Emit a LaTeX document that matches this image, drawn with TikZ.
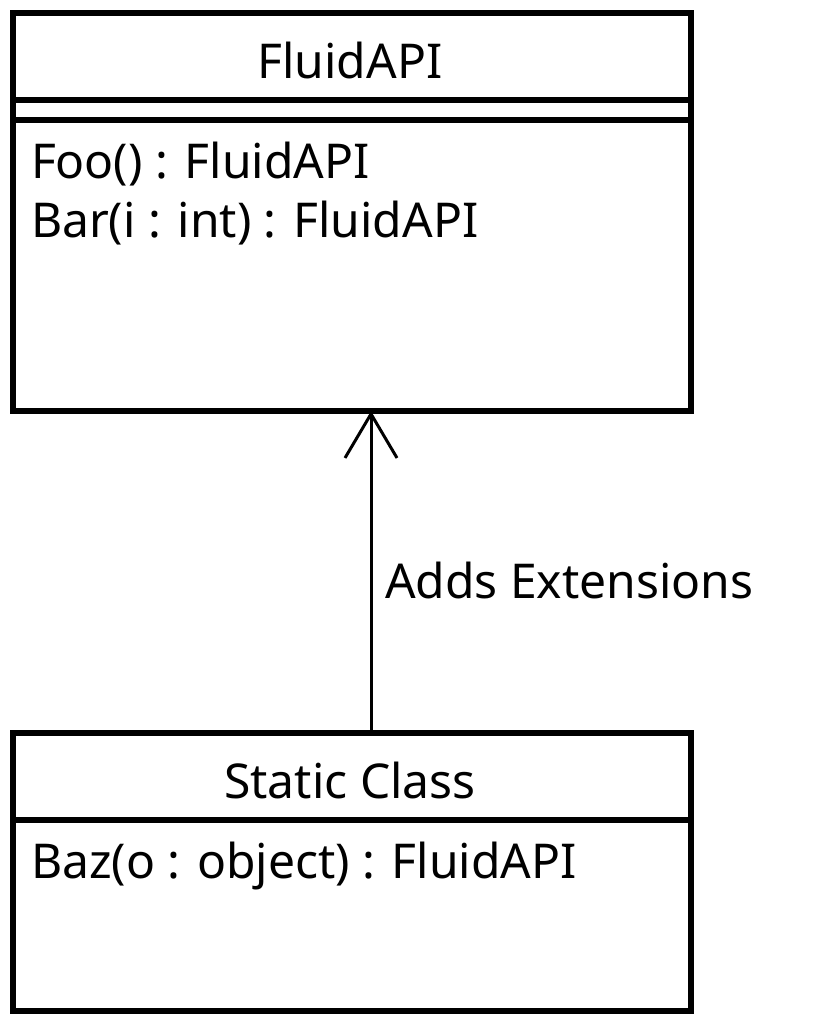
\documentclass[tikz,border=0pt]{standalone}
\usepackage{fontspec}
\setmainfont{Noto Sans}
\usetikzlibrary{arrows.meta}
\begin{document}
\begin{tikzpicture}[x=1pt,y=-1pt,line width=6pt,
  classbox/.style={draw=black, rectangle, inner sep=0pt, outer sep=0pt, minimum width=678pt, anchor=north west},
  txt/.style={font=\fontsize{48}{58}\selectfont, inner sep=0pt, anchor=base west},
  ctxt/.style={font=\fontsize{48}{58}\selectfont, inner sep=0pt, anchor=base},
  assoc/.style={line width=3pt, -{Straight Barb[length=44pt,width=52pt,line width=3pt]}}]
\useasboundingbox (0,0) rectangle (820,1020);
% FluidAPI class
\node[classbox, minimum height=398pt] (fluid) at (13,13) {};
\draw (13,100) -- (691,100);
\draw (13,120) -- (691,120);
\node[ctxt] (fluidname) at (350,78) {FluidAPI};
\node[txt] (foo) at (28,178) {Foo() : FluidAPI};
\node[txt] (bar) at (28,237) {Bar(i : int) : FluidAPI};
% Static class
\node[classbox, minimum height=278pt] (static) at (13,733) {};
\draw (13,820) -- (691,820);
\node[ctxt] (staticname) at (350,798) {Static Class};
\node[txt] (baz) at (28,878) {Baz(o : object) : FluidAPI};
% connector
\coordinate (ax) at (371,0);
\draw[assoc] (static.north -| ax) -- (fluid.south -| ax);
\node[txt] (lbl) at (382,598) {Adds Extensions};
\end{tikzpicture}
\end{document}
